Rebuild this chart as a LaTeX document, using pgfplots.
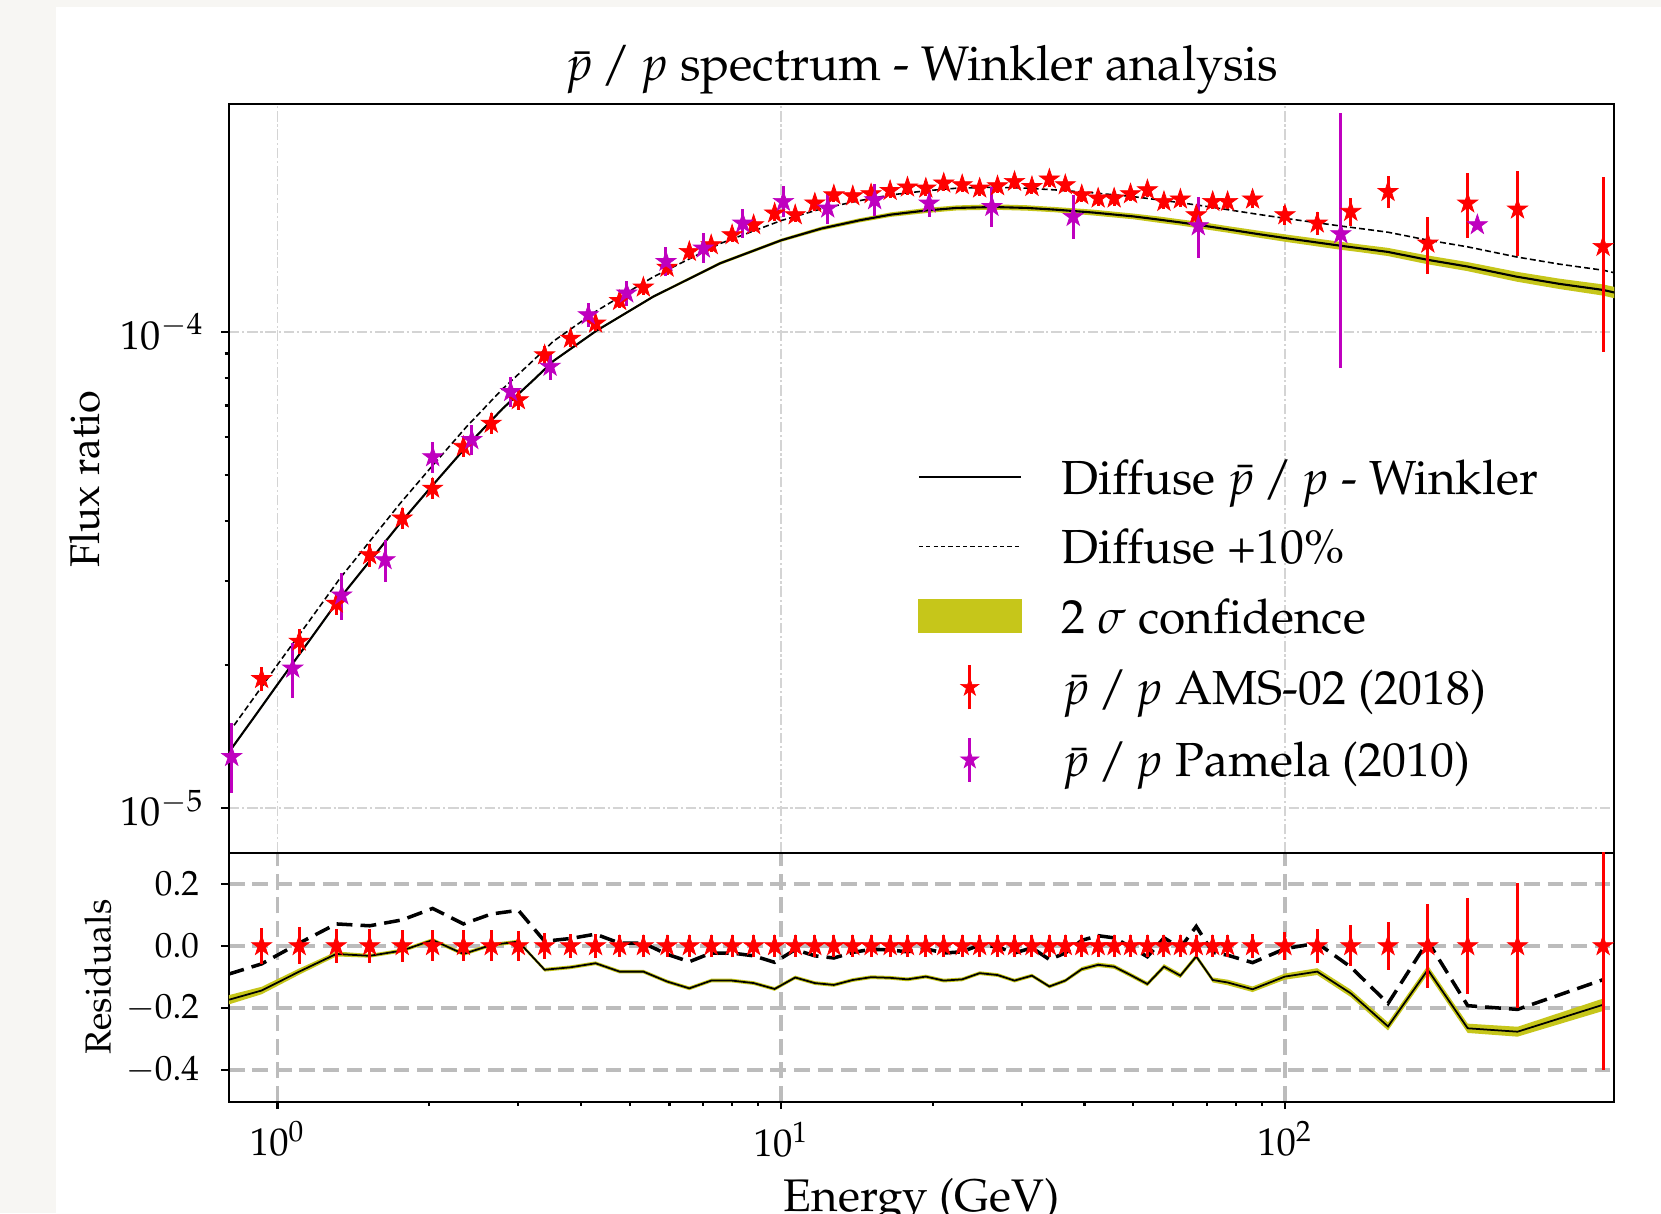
\documentclass[border=0pt]{standalone}
\usepackage[T1]{fontenc}
\usepackage{mathpazo}
\usepackage{pgfplots}
\usepackage{pgfplotstable}
\pgfplotsset{compat=1.18}

\definecolor{bandy}{RGB}{198,198,26}
\definecolor{amsred}{RGB}{255,0,0}
\definecolor{pammag}{RGB}{191,0,191}
\definecolor{pagegray}{RGB}{247,246,243}
\definecolor{gridlt}{RGB}{212,212,212}
\definecolor{griddk}{RGB}{188,188,188}

% filled five-pointed star, like matplotlib's '*'
\pgfdeclareplotmark{fstar}{%
  \pgfpathmoveto{\pgfpointpolar{90}{\pgfplotmarksize}}%
  \pgfpathlineto{\pgfpointpolar{126}{0.382\pgfplotmarksize}}%
  \pgfpathlineto{\pgfpointpolar{162}{\pgfplotmarksize}}%
  \pgfpathlineto{\pgfpointpolar{198}{0.382\pgfplotmarksize}}%
  \pgfpathlineto{\pgfpointpolar{234}{\pgfplotmarksize}}%
  \pgfpathlineto{\pgfpointpolar{270}{0.382\pgfplotmarksize}}%
  \pgfpathlineto{\pgfpointpolar{306}{\pgfplotmarksize}}%
  \pgfpathlineto{\pgfpointpolar{342}{0.382\pgfplotmarksize}}%
  \pgfpathlineto{\pgfpointpolar{18}{\pgfplotmarksize}}%
  \pgfpathlineto{\pgfpointpolar{54}{0.382\pgfplotmarksize}}%
  \pgfpathclose
  \pgfusepathqfillstroke}

% diffuse model: E, ratio, +10%
\pgfplotstableread{
E F up
0.80 0.1310e-4 0.1441e-4
0.90 0.1557e-4 0.1713e-4
1.00 0.1820e-4 0.2002e-4
1.15 0.2230e-4 0.2453e-4
1.33 0.2760e-4 0.3036e-4
1.55 0.3375e-4 0.3713e-4
1.75 0.3960e-4 0.4356e-4
2.00 0.4670e-4 0.5137e-4
2.375 0.5750e-4 0.6325e-4
2.80 0.6900e-4 0.7590e-4
3.215 0.7900e-4 0.8690e-4
3.53 0.8680e-4 0.9548e-4
4.30 1.005e-4 1.1055e-4
5.57 1.184e-4 1.3024e-4
7.56 1.391e-4 1.5301e-4
10.0 1.555e-4 1.7105e-4
12.0 1.645e-4 1.8095e-4
14.3 1.712e-4 1.8832e-4
16.5 1.760e-4 1.9360e-4
19.45 1.796e-4 1.9756e-4
22.3 1.818e-4 1.9998e-4
26.4 1.826e-4 2.0086e-4
30.7 1.818e-4 1.9998e-4
35.0 1.803e-4 1.9833e-4
41.6 1.778e-4 1.9558e-4
50.0 1.745e-4 1.9195e-4
56.5 1.717e-4 1.8887e-4
62.0 1.695e-4 1.8645e-4
70.1 1.664e-4 1.8304e-4
76.7 1.640e-4 1.8040e-4
88.2 1.603e-4 1.7633e-4
100.8 1.570e-4 1.7270e-4
128.6 1.515e-4 1.6665e-4
141 1.496e-4 1.6456e-4
160 1.470e-4 1.6170e-4
192.6 1.414e-4 1.5554e-4
230 1.370e-4 1.5070e-4
288.6 1.304e-4 1.4344e-4
350 1.260e-4 1.3860e-4
428.6 1.223e-4 1.3453e-4
451 1.208e-4 1.3288e-4
}\model

% 2 sigma band outline: lower edge forward, upper edge back
\pgfplotstableread{
E y
0.80 0.1303e-4
0.90 0.1549e-4
1.00 0.1811e-4
1.15 0.2219e-4
1.33 0.2746e-4
1.55 0.3358e-4
1.75 0.3940e-4
2.00 0.4647e-4
2.375 0.5721e-4
2.80 0.6866e-4
3.215 0.7861e-4
3.53 0.8637e-4
4.30 1.000e-4
5.57 1.177e-4
7.56 1.381e-4
10.0 1.543e-4
12.0 1.630e-4
14.3 1.695e-4
16.5 1.741e-4
19.45 1.774e-4
22.3 1.796e-4
26.4 1.802e-4
30.7 1.794e-4
35.0 1.780e-4
41.6 1.753e-4
50.0 1.721e-4
56.5 1.691e-4
62.0 1.670e-4
70.1 1.637e-4
76.7 1.614e-4
88.2 1.576e-4
100.8 1.542e-4
128.6 1.486e-4
141 1.468e-4
160 1.441e-4
192.6 1.384e-4
230 1.340e-4
288.6 1.273e-4
350 1.229e-4
428.6 1.190e-4
451 1.175e-4
451 1.241e-4
428.6 1.256e-4
350 1.292e-4
288.6 1.335e-4
230 1.400e-4
192.6 1.444e-4
160 1.499e-4
141 1.524e-4
128.6 1.544e-4
100.8 1.598e-4
88.2 1.630e-4
76.7 1.666e-4
70.1 1.691e-4
62.0 1.720e-4
56.5 1.743e-4
50.0 1.769e-4
41.6 1.803e-4
35.0 1.826e-4
30.7 1.842e-4
26.4 1.850e-4
22.3 1.840e-4
19.45 1.818e-4
16.5 1.779e-4
14.3 1.729e-4
12.0 1.660e-4
10.0 1.567e-4
7.56 1.401e-4
5.57 1.191e-4
4.30 1.010e-4
3.53 0.8723e-4
3.215 0.7940e-4
2.80 0.6935e-4
2.375 0.5779e-4
2.00 0.4693e-4
1.75 0.3980e-4
1.55 0.3392e-4
1.33 0.2774e-4
1.15 0.2241e-4
1.00 0.1829e-4
0.90 0.1565e-4
0.80 0.1317e-4
}\band

% AMS-02: E, ratio, error, relative error, residual of the data
\pgfplotstableread{
E F eF rel res
0.930 0.187e-4 0.0108e-4 0.058 0
1.104 0.224e-4 0.0134e-4 0.060 0
1.308 0.269e-4 0.0148e-4 0.055 0
1.524 0.340e-4 0.0184e-4 0.054 0
1.768 0.406e-4 0.0211e-4 0.052 0
2.032 0.469e-4 0.0235e-4 0.050 0
2.339 0.574e-4 0.0287e-4 0.050 0
2.656 0.642e-4 0.0321e-4 0.050 0
3.007 0.719e-4 0.0345e-4 0.048 0
3.391 0.893e-4 0.0384e-4 0.043 0
3.817 0.968e-4 0.0387e-4 0.040 0
4.279 1.041e-4 0.0396e-4 0.038 0
4.777 1.161e-4 0.0418e-4 0.036 0
5.325 1.239e-4 0.0434e-4 0.035 0
5.934 1.364e-4 0.0477e-4 0.035 0
6.570 1.472e-4 0.0515e-4 0.035 0
7.261 1.520e-4 0.0532e-4 0.035 0
7.989 1.596e-4 0.0559e-4 0.035 0
8.815 1.675e-4 0.0586e-4 0.035 0
9.703 1.772e-4 0.0620e-4 0.035 0
10.66 1.757e-4 0.0615e-4 0.035 0
11.66 1.860e-4 0.0651e-4 0.035 0
12.72 1.935e-4 0.0677e-4 0.035 0
13.87 1.926e-4 0.0674e-4 0.035 0
15.08 1.945e-4 0.0681e-4 0.035 0
16.45 1.976e-4 0.0692e-4 0.035 0
17.81 2.009e-4 0.0703e-4 0.035 0
19.37 1.999e-4 0.0700e-4 0.035 0
21.02 2.048e-4 0.0717e-4 0.035 0
22.87 2.032e-4 0.0711e-4 0.035 0
24.77 1.999e-4 0.0700e-4 0.035 0
26.88 2.021e-4 0.0707e-4 0.035 0
29.05 2.064e-4 0.0722e-4 0.035 0
31.46 2.014e-4 0.0705e-4 0.035 0
34.07 2.088e-4 0.0731e-4 0.035 0
36.65 2.032e-4 0.0711e-4 0.035 0
39.51 1.935e-4 0.0677e-4 0.035 0
42.58 1.905e-4 0.0667e-4 0.035 0
45.81 1.905e-4 0.0667e-4 0.035 0
49.37 1.945e-4 0.0681e-4 0.035 0
53.33 1.983e-4 0.0694e-4 0.035 0
57.53 1.874e-4 0.0656e-4 0.035 0
62.01 1.896e-4 0.0664e-4 0.035 0
66.68 1.757e-4 0.0615e-4 0.035 0
71.89 1.874e-4 0.0656e-4 0.035 0
76.96 1.874e-4 0.0656e-4 0.035 0
86.26 1.896e-4 0.0758e-4 0.040 0
100.0 1.757e-4 0.0808e-4 0.046 0
115.9 1.688e-4 0.0912e-4 0.054 0
135.1 1.786e-4 0.1179e-4 0.066 0
160.2 1.966e-4 0.1514e-4 0.077 0
192.2 1.532e-4 0.2084e-4 0.136 0
230.6 1.859e-4 0.2881e-4 0.155 0
289.6 1.806e-4 0.3648e-4 0.202 0
428.2 1.508e-4 0.6032e-4 0.400 0
}\ams

% Pamela: E, ratio, error up, error down
\pgfplotstableread{
E F ep em
0.811 0.1283e-4 0.0225e-4 0.0208e-4
1.072 0.1967e-4 0.0252e-4 0.0267e-4
1.341 0.2800e-4 0.0310e-4 0.0320e-4
1.635 0.3320e-4 0.0340e-4 0.0330e-4
2.033 0.5460e-4 0.0420e-4 0.0410e-4
2.430 0.5930e-4 0.0450e-4 0.0420e-4
2.904 0.7480e-4 0.0560e-4 0.0520e-4
3.476 0.8450e-4 0.0560e-4 0.0530e-4
4.140 1.084e-4 0.067e-4 0.063e-4
4.934 1.204e-4 0.074e-4 0.070e-4
5.905 1.402e-4 0.100e-4 0.093e-4
7.005 1.496e-4 0.111e-4 0.103e-4
8.388 1.688e-4 0.121e-4 0.113e-4
10.10 1.874e-4 0.143e-4 0.133e-4
12.37 1.815e-4 0.143e-4 0.133e-4
15.33 1.889e-4 0.154e-4 0.142e-4
19.66 1.859e-4 0.128e-4 0.120e-4
26.20 1.829e-4 0.187e-4 0.169e-4
38.00 1.743e-4 0.195e-4 0.175e-4
67.30 1.666e-4 0.248e-4 0.240e-4
129.1 1.603e-4 1.268e-4 0.763e-4
241.0 1.675e-4 0.001e-4 0.001e-4
}\pamela

% residuals (model - data)/data: E, diffuse, +10%
\pgfplotstableread{
E r d
0.80 -0.174 -0.091
0.930 -0.144 -0.058
1.104 -0.083 0.009
1.308 -0.026 0.071
1.524 -0.032 0.065
1.768 -0.015 0.084
2.032 0.019 0.121
2.339 -0.026 0.071
2.656 0.003 0.103
3.007 0.014 0.115
3.391 -0.077 0.015
3.817 -0.069 0.024
4.279 -0.056 0.038
4.777 -0.083 0.009
5.325 -0.083 0.009
5.934 -0.115 -0.027
6.570 -0.137 -0.051
7.261 -0.112 -0.023
7.989 -0.112 -0.023
8.815 -0.120 -0.032
9.703 -0.139 -0.053
10.66 -0.102 -0.012
11.66 -0.120 -0.032
12.72 -0.126 -0.039
13.87 -0.110 -0.021
15.08 -0.101 -0.011
16.45 -0.103 -0.013
17.81 -0.108 -0.019
19.37 -0.099 -0.009
21.02 -0.112 -0.023
22.87 -0.108 -0.019
24.77 -0.088 0.003
26.88 -0.094 -0.003
29.05 -0.112 -0.023
31.46 -0.096 -0.006
34.07 -0.131 -0.044
36.65 -0.112 -0.023
39.51 -0.075 0.018
42.58 -0.061 0.033
45.81 -0.067 0.026
49.37 -0.094 -0.003
53.33 -0.123 -0.035
57.53 -0.067 0.026
62.01 -0.096 -0.006
66.68 -0.034 0.063
71.89 -0.110 -0.021
76.96 -0.118 -0.030
86.26 -0.140 -0.054
100.0 -0.099 -0.009
115.9 -0.083 0.009
135.1 -0.153 -0.068
160.2 -0.260 -0.186
192.2 -0.077 0.015
230.6 -0.266 -0.193
289.6 -0.277 -0.205
428.2 -0.190 -0.109
}\resid

% residual band outline: lower edge forward, upper edge back
\pgfplotstableread{
E y
0.80 -0.189
0.930 -0.156
1.104 -0.093
1.308 -0.034
1.524 -0.038
1.768 -0.021
2.032 0.013
2.339 -0.032
2.656 -0.003
3.007 0.008
3.391 -0.083
3.817 -0.075
4.279 -0.062
4.777 -0.089
5.325 -0.089
5.934 -0.121
6.570 -0.143
7.261 -0.118
7.989 -0.118
8.815 -0.126
9.703 -0.145
10.66 -0.108
11.66 -0.126
12.72 -0.132
13.87 -0.116
15.08 -0.107
16.45 -0.109
17.81 -0.114
19.37 -0.105
21.02 -0.118
22.87 -0.114
24.77 -0.094
26.88 -0.100
29.05 -0.118
31.46 -0.102
34.07 -0.137
36.65 -0.118
39.51 -0.082
42.58 -0.068
45.81 -0.074
49.37 -0.101
53.33 -0.130
57.53 -0.075
62.01 -0.104
66.68 -0.042
71.89 -0.118
76.96 -0.127
86.26 -0.149
100.0 -0.109
115.9 -0.094
135.1 -0.165
160.2 -0.273
192.2 -0.091
230.6 -0.281
289.6 -0.293
428.2 -0.210
428.2 -0.170
289.6 -0.261
230.6 -0.251
192.2 -0.063
160.2 -0.247
135.1 -0.141
115.9 -0.072
100.0 -0.089
86.26 -0.131
76.96 -0.109
71.89 -0.102
66.68 -0.026
62.01 -0.088
57.53 -0.059
53.33 -0.116
49.37 -0.087
45.81 -0.060
42.58 -0.054
39.51 -0.068
36.65 -0.106
34.07 -0.125
31.46 -0.090
29.05 -0.106
26.88 -0.088
24.77 -0.082
22.87 -0.102
21.02 -0.106
19.37 -0.093
17.81 -0.102
16.45 -0.097
15.08 -0.095
13.87 -0.104
12.72 -0.120
11.66 -0.114
10.66 -0.096
9.703 -0.133
8.815 -0.114
7.989 -0.106
7.261 -0.106
6.570 -0.131
5.934 -0.109
5.325 -0.077
4.777 -0.077
4.279 -0.050
3.817 -0.063
3.391 -0.071
3.007 0.020
2.656 0.009
2.339 -0.020
2.032 0.025
1.768 -0.009
1.524 -0.026
1.308 -0.018
1.104 -0.073
0.930 -0.132
0.80 -0.159
}\rband

\begin{document}
\begin{tikzpicture}
\fill[pagegray] (0,0) rectangle (16.61,12.13);
\fill[white] (0.56,0) rectangle (16.61,12.06);

\begin{axis}[
  at={(2.288cm,3.603cm)}, anchor=south west,
  scale only axis, width=13.856cm, height=7.489cm,
  xmode=log, ymode=log, xmin=0.8003, xmax=451, ymin=8.07e-6, ymax=3.006e-4,
  axis line style={line width=0.6pt},
  tick style={line width=0.6pt, black},
  tick align=outside, tick pos=left,
  major tick length=0.75mm, minor tick length=0.42mm,
  xtick={1,10,100}, xticklabels={}, xminorticks=false,
  major x tick style={draw=none},
  ytick={1e-5,1e-4},
  yticklabel style={font=\fontsize{11.5}{13}\selectfont, xshift=-0.5mm},
  grid=major,
  major grid style={gridlt, line width=0.5pt, dash pattern=on 3pt off 0.8pt on 0.6pt off 0.8pt},
  title={$\bar{p}\,/\,p$ spectrum - Winkler analysis},
  title style={at={(0.5,1)}, anchor=base, yshift=0.2mm, font=\fontsize{13.8}{16}\selectfont},
  ylabel={Flux ratio},
  ylabel style={at={(-0.104,0.499)}, rotate=0, anchor=center, font=\fontsize{11.8}{14}\selectfont},
  legend cell align=left,
  legend style={draw=none, fill=none, at={(0.4967,0.532)}, anchor=north west,
    inner sep=0pt, row sep=2.56mm, column sep=4mm, font=\fontsize{13.6}{16}\selectfont,
    nodes={inner sep=0pt, text height=3.9mm, text depth=0.5mm}},
]
\addplot[forget plot, fill=bandy, draw=none] table[x=E, y=y] {\band} -- cycle;
\addplot[forget plot, black, line width=0.6pt] table[x=E, y=F] {\model};
\addplot[forget plot, black, line width=0.45pt, dash pattern=on 1.7pt off 0.9pt] table[x=E, y=up] {\model};
\addplot[forget plot, amsred, only marks, mark=fstar, mark size=3pt,
  mark options={fill=amsred, draw=amsred, line width=0.2pt, solid},
  error bars/.cd, y dir=both, y explicit, error mark=none,
  error bar style={amsred, line width=0.85pt, solid}]
  table[x=E, y=F, y error=eF] {\ams};
\addplot[forget plot, pammag, only marks, mark=fstar, mark size=3pt,
  mark options={fill=pammag, draw=pammag, line width=0.2pt, solid},
  error bars/.cd, y dir=both, y explicit, error mark=none,
  error bar style={pammag, line width=0.85pt, solid}]
  table[x=E, y=F, y error plus=ep, y error minus=em] {\pamela};

\addlegendimage{legend image code/.code={\draw[black, line width=0.6pt] (0mm,0mm) -- (10.2mm,0mm);}}
\addlegendentry{Diffuse $\bar{p}\,/\,p$ - Winkler}
\addlegendimage{legend image code/.code={\draw[black, line width=0.5pt, dash pattern=on 1.2pt off 0.9pt] (0mm,0mm) -- (10.2mm,0mm);}}
\addlegendentry{Diffuse +10\%}
\addlegendimage{legend image code/.code={\fill[bandy] (0mm,-1.65mm) rectangle (10.2mm,1.65mm);}}
\addlegendentry{2 $\sigma$ confidence}
\addlegendimage{legend image code/.code={\draw[amsred, line width=0.85pt] (5.1mm,-2.2mm) -- (5.1mm,2.2mm);
  \draw[amsred, fill=amsred, line width=0.2pt, mark=fstar, mark size=2.7pt] plot coordinates {(5.1mm,0mm)};}}
\addlegendentry{$\bar{p}\,/\,p$ AMS-02 (2018)}
\addlegendimage{legend image code/.code={\draw[pammag, line width=0.85pt] (5.1mm,-2.2mm) -- (5.1mm,2.2mm);
  \draw[pammag, fill=pammag, line width=0.2pt, mark=fstar, mark size=2.7pt] plot coordinates {(5.1mm,0mm)};}}
\addlegendentry{$\bar{p}\,/\,p$ Pamela (2010)}
\end{axis}

\begin{axis}[
  at={(2.288cm,1.113cm)}, anchor=south west,
  scale only axis, width=13.856cm, height=2.49cm,
  xmode=log, xmin=0.8003, xmax=451, ymin=-0.503, ymax=0.301,
  axis line style={line width=0.6pt},
  tick style={line width=0.6pt, black},
  tick align=outside, tick pos=left,
  major tick length=0.75mm, minor tick length=0.42mm,
  xtick={1,10,100},
  ytick={-0.4,-0.2,0,0.2},
  xticklabel style={font=\fontsize{11}{13}\selectfont},
  yticklabel style={/pgf/number format/fixed, /pgf/number format/fixed zerofill,
    /pgf/number format/precision=1, font=\fontsize{10}{12}\selectfont, xshift=-1mm},
  grid=major,
  major grid style={griddk, line width=1.05pt, dash pattern=on 4.5pt off 2.2pt},
  ylabel={Residuals},
  ylabel style={at={(-0.0944,0.5)}, rotate=0, anchor=center, font=\fontsize{10.3}{12}\selectfont},
  xlabel={Energy (GeV)},
  xlabel style={at={(0.5,-0.439)}, anchor=base, font=\fontsize{13}{15}\selectfont},
]
\addplot[fill=bandy, draw=none] table[x=E, y=y] {\rband} -- cycle;
\addplot[black, line width=0.5pt] table[x=E, y=r] {\resid};
\addplot[black, line width=1pt, dash pattern=on 4.5pt off 2.3pt] table[x=E, y=d] {\resid};
\addplot[amsred, only marks, mark=fstar, mark size=3pt,
  mark options={fill=amsred, draw=amsred, line width=0.2pt, solid},
  error bars/.cd, y dir=both, y explicit, error mark=none,
  error bar style={amsred, line width=0.85pt, solid}]
  table[x=E, y=res, y error=rel] {\ams};
\end{axis}

\pgfresetboundingbox
\useasboundingbox (0,0) rectangle (16.61,12.13);
\end{tikzpicture}
\end{document}
